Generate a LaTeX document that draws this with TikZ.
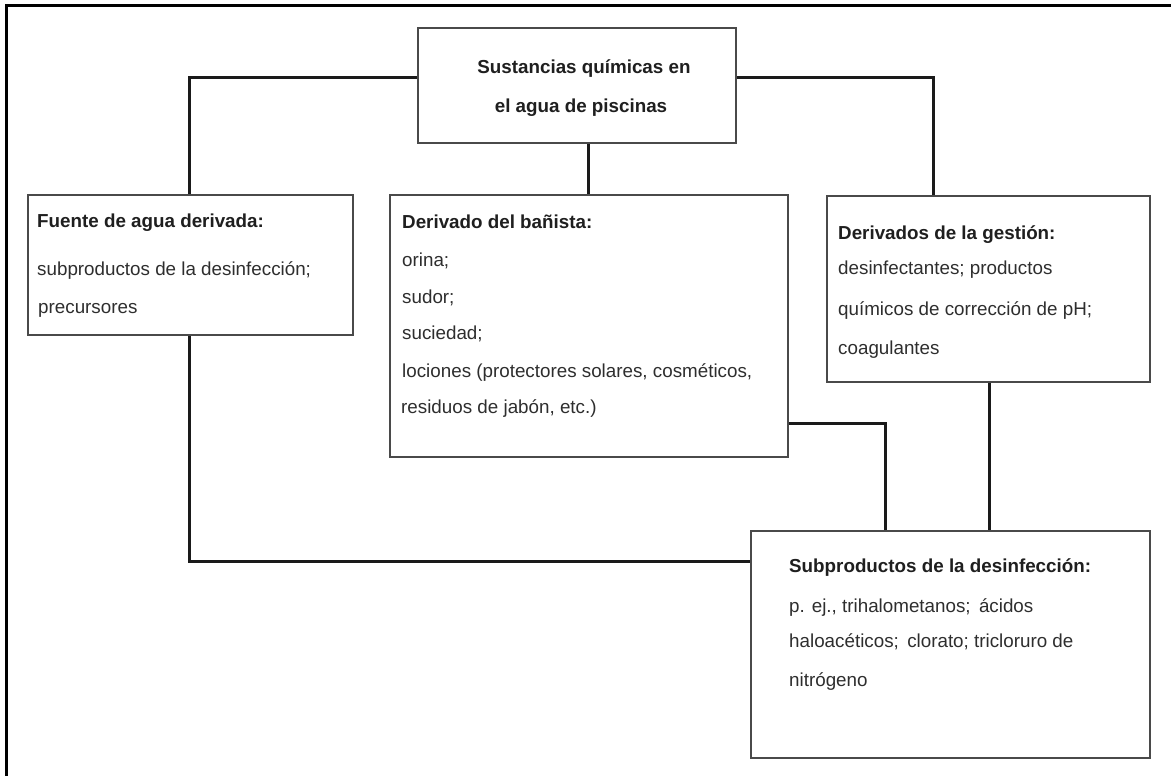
\documentclass[tikz,border=0pt]{standalone}
\usepackage{fontspec}
\setmainfont{Liberation Sans}
\definecolor{boxgray}{HTML}{4A4A4A}
\definecolor{conncol}{HTML}{1A1A1A}
\definecolor{txtcol}{HTML}{2E2E2E}
\begin{document}
\begin{tikzpicture}[x=1pt,y=-1pt,
  box/.style={draw=boxgray, line width=2.1pt, rectangle, inner sep=0pt, anchor=north west, fill=white},
  conn/.style={draw=conncol, line width=3pt},
  frame/.style={draw=black, line width=3pt, line join=miter},
  txt/.style={anchor=base west, inner sep=0pt, text=txtcol, font=\fontsize{18.8}{22}\selectfont},
  ttl/.style={txt, text=black!88, font=\fontsize{18.8}{22}\selectfont\bfseries},
  ctr/.style={ttl, anchor=base}]
\useasboundingbox (0,0) rectangle (1171,776);
\draw[frame] (6,776) -- (6,6) -- (1171,6);
% boxes
\node[box, minimum width=318pt, minimum height=115pt] (top) at (417,27) {};
\node[box, minimum width=325pt, minimum height=140pt] (left) at (27,194) {};
\node[box, minimum width=398pt, minimum height=262pt] (mid) at (389,194) {};
\node[box, minimum width=323pt, minimum height=186pt] (right) at (826,195) {};
\node[box, minimum width=399pt, minimum height=227pt] (bot) at (750,530) {};
% junction coordinates
\coordinate (jl) at (189,78);
\coordinate (jr) at (933,78);
\coordinate (jm) at (588,0);
\coordinate (jb) at (189,561);
\coordinate (jx) at (885,423);
\coordinate (jy) at (989,0);
% connectors
\draw[conn] (top.west |- jl) -- (jl) -- (jl |- left.north);
\draw[conn] (top.east |- jr) -- (jr) -- (jr |- right.north);
\draw[conn] (top.south -| jm) -- (mid.north -| jm);
\draw[conn] (left.south -| jb) -- (jb) -- (bot.west |- jb);
\draw[conn] (mid.east |- jx) -- (jx) -- (jx |- bot.north);
\draw[conn] (right.south -| jy) -- (bot.north -| jy);
% texts
\node[ctr] (t1) at (584,74) {Sustancias químicas en};
\node[ctr] (t2) at (581,113) {el agua de piscinas};

\node[ttl] (l1) at (37,227) {Fuente de agua derivada:};
\node[txt] (l2) at (37,275) {subproductos de la desinfección;};
\node[txt] (l3) at (38,313) {precursores};

\node[ttl] (m1) at (402,228) {Derivado del bañista:};
\node[txt] (m2) at (402,266) {orina;};
\node[txt] (m3) at (402,303) {sudor;};
\node[txt] (m4) at (402,339) {suciedad;};
\node[txt] (m5) at (402,377) {lociones (protectores solares, cosméticos,};
\node[txt] (m6) at (401,413) {residuos de jabón, etc.)};

\node[ttl] (r1) at (838,239) {Derivados de la gestión:};
\node[txt] (r2) at (838,274) {desinfectantes; productos};
\node[txt] (r3) at (838,315) {químicos de corrección de pH;};
\node[txt] (r4) at (838,354) {coagulantes};

\node[ttl] (b1) at (789,572) {Subproductos de la desinfección:};
\node[txt] (b2) at (789,612) {p. ej., trihalometanos;\, ácidos};
\node[txt] (b3) at (789,647) {haloacéticos;\, clorato; tricloruro de};
\node[txt] (b4) at (789,686) {nitrógeno};
\end{tikzpicture}
\end{document}
